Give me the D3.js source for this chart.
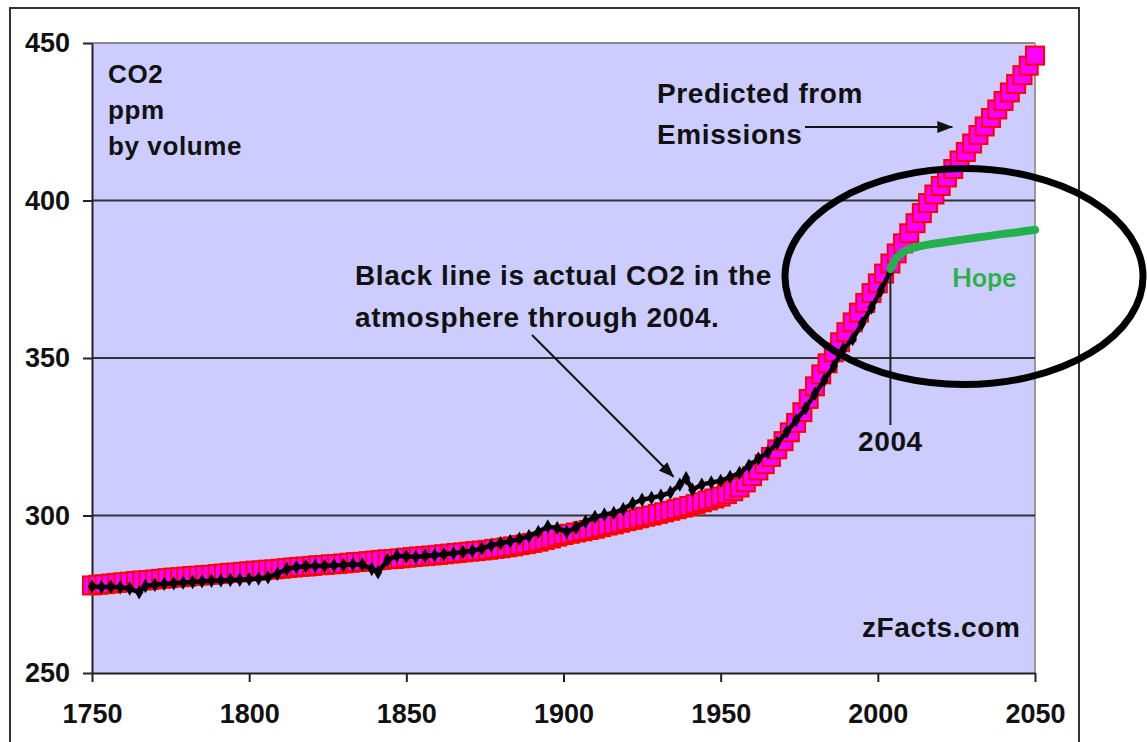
<!DOCTYPE html>
<html>
<head>
<meta charset="utf-8">
<script src="https://cdn.jsdelivr.net/npm/d3@7"></script>
<style>
  html, body { margin: 0; padding: 0; background: #ffffff; }
  svg { display: block; }
  text { font-family: "Liberation Sans", Arial, sans-serif; font-weight: bold; fill: #111; }
</style>
</head>
<body>
<svg id="chart" width="1147" height="742"></svg>
<script>
// ---------------- DATA ----------------
const xTicks = [1750, 1800, 1850, 1900, 1950, 2000, 2050];
const yTicks = [250, 300, 350, 400, 450];
const gridValues = [300, 350, 400];

// Predicted from emissions (pink squares), every 2 years 1750..2050
const predYears = [
1750,1752,1754,1756,1758,1760,1762,1764,1766,1768,
1770,1772,1774,1776,1778,1780,1782,1784,1786,1788,
1790,1792,1794,1796,1798,1800,1802,1804,1806,1808,
1810,1812,1814,1816,1818,1820,1822,1824,1826,1828,
1830,1832,1834,1836,1838,1840,1842,1844,1846,1848,
1850,1852,1854,1856,1858,1860,1862,1864,1866,1868,
1870,1872,1874,1876,1878,1880,1882,1884,1886,1888,
1890,1892,1894,1896,1898,1900,1902,1904,1906,1908,
1910,1912,1914,1916,1918,1920,1922,1924,1926,1928,
1930,1932,1934,1936,1938,1940,1942,1944,1946,1948,
1950,1952,1954,1956,1958,1960,1962,1964,1966,1968,
1970,1972,1974,1976,1978,1980,1982,1984,1986,1988,
1990,1992,1994,1996,1998,2000,2002,2004,2006,2008,
2010,2012,2014,2016,2018,2020,2022,2024,2026,2028,
2030,2032,2034,2036,2038,2040,2042,2044,2046,2048,
2050];
const predValues = [
277.8,278.0,278.2,278.4,278.6,278.8,279.0,279.2,279.4,279.5,
279.7,279.9,280.1,280.3,280.4,280.6,280.8,280.9,281.1,281.2,
281.4,281.6,281.8,281.9,282.1,282.3,282.5,282.6,282.8,282.9,
283.1,283.3,283.5,283.7,283.8,284.0,284.2,284.3,284.5,284.6,
284.8,285.0,285.2,285.3,285.5,285.7,285.9,286.1,286.2,286.4,
286.6,286.8,287.0,287.1,287.3,287.5,287.7,287.9,288.1,288.3,
288.5,288.7,288.9,289.1,289.4,289.6,289.9,290.2,290.6,290.9,
291.3,291.7,292.2,292.7,293.3,293.8,294.2,294.6,295.0,295.4,
295.8,296.3,296.8,297.2,297.7,298.2,298.6,299.1,299.6,300.0,
300.5,301.0,301.5,302.0,302.5,303.0,303.6,304.2,304.8,305.4,
306.0,306.8,307.7,308.9,310.5,312.5,314.3,316.3,318.6,321.0,
323.6,326.4,329.4,332.8,337.0,341.0,344.8,348.3,351.8,355.0,
358.2,361.3,364.4,367.5,370.6,373.7,376.8,380.0,383.2,386.4,
389.6,392.8,396.0,399.2,401.9,404.6,407.3,410.0,412.7,415.4,
418.1,420.8,423.5,426.2,428.9,431.6,434.3,437.0,439.8,442.8,
446.0];

// Actual CO2 (black line) through 2004
const actualYears = [
1750,1753,1756,1759,1762,1765,1767,1770,1773,1776,1779,1782,1785,1788,1791,1794,1797,
1800,1803,1806,1809,1812,1815,1818,1821,1824,1827,1830,1833,1836,1839,1841,1844,1847,
1850,1853,1856,1859,1862,1865,1868,1871,1874,1877,1880,1883,1886,1889,1892,1895,1898,
1901,1904,1907,1910,1913,1916,1919,1922,1925,1928,1931,1934,1937,1939,1941,1944,1947,
1950,1953,1956,1959,1962,1965,1968,1971,1974,1977,1980,1983,1986,1989,1992,1995,1998,
2001,2004];
const actualValues = [
277.5,277.3,277.4,277.2,276.8,275.6,277.6,278.0,278.3,278.5,278.7,278.9,279.1,279.3,279.4,279.5,279.6,
279.8,280.0,280.4,281.5,283.0,283.6,283.9,284.0,284.0,284.2,284.3,284.5,284.4,283.0,282.0,285.8,287.2,
287.0,286.8,287.2,287.4,287.7,288.0,288.4,288.8,289.5,290.5,291.2,291.8,292.6,293.4,294.8,296.5,296.0,
294.8,296.2,298.0,299.5,300.3,300.8,302.0,303.8,305.0,305.6,306.3,307.3,309.8,311.8,308.2,309.8,310.5,
311.0,312.2,313.5,315.8,318.0,320.0,323.0,326.5,330.2,334.0,338.7,343.0,347.5,352.8,356.0,361.0,366.0,
371.5,377.8];

// "Hope" scenario (green line)
const hopeYears  = [2004, 2005, 2006, 2007, 2008, 2010, 2013, 2016, 2020, 2025, 2030, 2035, 2040, 2045, 2050];
const hopeValues = [378.2, 380.3, 381.8, 382.8, 383.6, 384.6, 385.4, 386.0, 386.6, 387.3, 388.0, 388.7, 389.4, 390.0, 390.7];

// ---------------- CHART ----------------
const svg = d3.select("#chart");
const L = 92, R = 1035, T = 43, B = 673;
const x = d3.scaleLinear().domain([1750, 2050]).range([L, R]);
const y = d3.scaleLinear().domain([250, 450]).range([B, T]);

// outer frame
svg.append("rect").attr("x", 10).attr("y", 8).attr("width", 1069).attr("height", 800)
  .attr("fill", "#fff").attr("stroke", "#333").attr("stroke-width", 2);

// plot area
svg.append("rect").attr("x", L).attr("y", T).attr("width", R - L).attr("height", B - T)
  .attr("fill", "#CCCCFF");
svg.append("line").attr("x1", L).attr("x2", R).attr("y1", y(450)).attr("y2", y(450))
  .attr("stroke", "#8a8a8a").attr("stroke-width", 2);
svg.append("line").attr("x1", R).attr("x2", R).attr("y1", T).attr("y2", B)
  .attr("stroke", "#9a9a9a").attr("stroke-width", 2);

// gridlines
svg.append("g").selectAll("line").data(gridValues).join("line")
  .attr("x1", L).attr("x2", R).attr("y1", d => y(d)).attr("y2", d => y(d))
  .attr("stroke", "#333").attr("stroke-width", 2);

// axes
const yAxis = svg.append("g").attr("transform", `translate(${L},0)`)
  .call(d3.axisLeft(y).tickValues(yTicks).tickSize(9).tickSizeOuter(0).tickPadding(13).tickFormat(d3.format("d")));
const xAxis = svg.append("g").attr("transform", `translate(0,${B})`)
  .call(d3.axisBottom(x).tickValues(xTicks).tickSize(9).tickSizeOuter(0).tickPadding(22).tickFormat(d3.format("d")));
[yAxis, xAxis].forEach(g => {
  g.select(".domain").attr("stroke", "#222").attr("stroke-width", 2);
  g.selectAll(".tick line").attr("stroke", "#222").attr("stroke-width", 2);
  g.selectAll(".tick text").attr("fill", "#111")
    .style("font-family", '"Liberation Sans", Arial, sans-serif')
    .style("font-weight", "bold").style("font-size", "27px");
});

// predicted (pink squares)
const sq = 18;
svg.append("g").selectAll("rect").data(predYears.map((yr, i) => [yr, predValues[i]])).join("rect")
  .attr("x", d => x(d[0]) - sq / 2).attr("y", d => y(d[1]) - sq / 2)
  .attr("width", sq).attr("height", sq)
  .attr("fill", "#FF00FF").attr("stroke", "#FF0000").attr("stroke-width", 2);

// actual (black line with diamonds)
const actual = actualYears.map((yr, i) => [yr, actualValues[i]]);
svg.append("path").datum(actual)
  .attr("d", d3.line().x(d => x(d[0])).y(d => y(d[1])))
  .attr("fill", "none").attr("stroke", "#000").attr("stroke-width", 4.5)
  .attr("stroke-linejoin", "round");
svg.append("g").selectAll("path").data(actual).join("path")
  .attr("transform", d => `translate(${x(d[0])},${y(d[1])})`)
  .attr("d", d3.symbol().type(d3.symbolDiamond).size(60))
  .attr("fill", "#000");

// hope (green)
const hope = hopeYears.map((yr, i) => [yr, hopeValues[i]]);
svg.append("path").datum(hope)
  .attr("d", d3.line().curve(d3.curveMonotoneX).x(d => x(d[0])).y(d => y(d[1])))
  .attr("fill", "none").attr("stroke", "#22B14C").attr("stroke-width", 8)
  .attr("stroke-linecap", "round").attr("stroke-linejoin", "round");

// arrow marker
const defs = svg.append("defs");
defs.append("marker").attr("id", "arrow").attr("markerUnits", "userSpaceOnUse")
  .attr("markerWidth", 16).attr("markerHeight", 14).attr("refX", 15).attr("refY", 6)
  .attr("orient", "auto")
  .append("path").attr("d", "M0,0 L16,6 L0,12 Z").attr("fill", "#111");

// annotations
function txt(s, tx, ty, size, extra) {
  const t = svg.append("text").attr("x", tx).attr("y", ty).text(s)
    .style("font-size", size + "px").style("letter-spacing", "0.6px");
  if (extra) extra(t);
  return t;
}
txt("CO2", 108, 83, 26);
txt("ppm", 108, 119, 26);
txt("by volume", 108, 155, 26);

txt("Predicted from", 657, 103, 28);
txt("Emissions", 657, 144, 28);
svg.append("line").attr("x1", 805).attr("y1", 127).attr("x2", x(2023.7)).attr("y2", 127)
  .attr("stroke", "#111").attr("stroke-width", 2).attr("marker-end", "url(#arrow)");

txt("Black line is actual CO2 in the", 355, 285, 28);
txt("atmosphere through 2004.", 355, 327, 28);
svg.append("line").attr("x1", 532).attr("y1", 335).attr("x2", x(1935)).attr("y2", y(312.3))
  .attr("stroke", "#111").attr("stroke-width", 2).attr("marker-end", "url(#arrow)");

// 2004 marker line
svg.append("line").attr("x1", x(2004)).attr("x2", x(2004)).attr("y1", 274).attr("y2", 425)
  .attr("stroke", "#222").attr("stroke-width", 2);
txt("2004", x(2004), 451, 28, t => t.attr("text-anchor", "middle"));

txt("Hope", 952, 287, 26, t => t.style("font-family", "Lato, 'Open Sans', sans-serif")
  .style("font-weight", "bold").style("fill", "#2DB04B").style("letter-spacing", "0.3px"));

txt("zFacts.com", 862, 637, 28);

// ellipse
svg.append("ellipse").attr("cx", 964).attr("cy", 276.5).attr("rx", 179).attr("ry", 108)
  .attr("fill", "none").attr("stroke", "#000").attr("stroke-width", 7);
</script>
</body>
</html>
